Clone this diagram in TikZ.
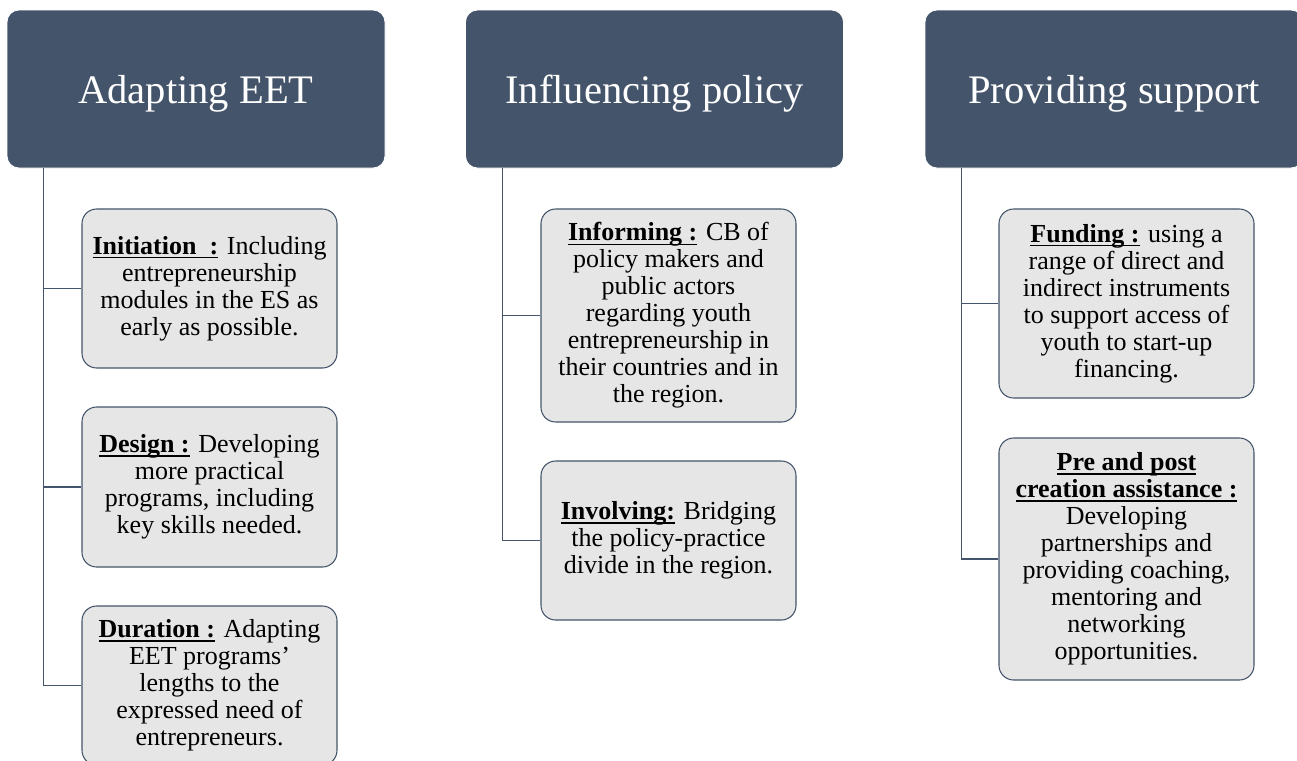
\documentclass[tikz,border=0pt]{standalone}
\usepackage{fontspec}
\setmainfont{Liberation Serif}

\definecolor{slate}{HTML}{44546A}
\definecolor{paper}{HTML}{E7E6E6}

\tikzset{
  head/.style={fill=slate,draw=white,line width=.6pt,rounded corners=9pt,
    minimum width=283.5pt,minimum height=118.5pt,text=white,text depth=0pt,
    font=\fontsize{30.4}{36}\selectfont},
  item/.style={fill=paper,draw=slate,line width=.8pt,rounded corners=11pt,
    minimum width=191.25pt,align=center,inner sep=2pt,
    font=\fontsize{19.5}{20.25}\selectfont},
  branch/.style={draw=slate,line width=.9pt}
}
% bold lead-in with a rule at a fixed depth
\newlength{\leadwd}
\newcommand{\lead}[1]{\settowidth{\leadwd}{\textbf{#1}}%
  \rlap{\rule[-3pt]{\leadwd}{1pt}}\textbf{#1}}

\begin{document}
\begin{tikzpicture}[x=.75pt,y=-.75pt]
  \useasboundingbox (0,0) rectangle (1297,761);
  \clip (0,0) rectangle (1297,761);

  % column headers
  \node[head] (eet) at (196,89) {Adapting EET};
  \node[head] (pol) at (654.5,89) {Influencing policy};
  \node[head] (sup) at (1114,89) {Providing support};

  % first column
  \node[item,minimum height=119.25pt] (init) at (209.5,288.5)
    {\lead{Initiation\ \ :} Including\\entrepreneurship\\modules in the ES as\\early as possible.};
  \node[item,minimum height=120pt] (design) at (209.5,487)
    {\lead{Design :} Developing\\more practical\\programs, including\\key skills needed.};
  \node[item,minimum height=119.25pt] (dur) at (209.5,685.5)
    {\lead{Duration :} Adapting\\EET programs’\\lengths to the\\expressed need of\\entrepreneurs.};

  % second column
  \node[item,minimum height=159.75pt] (inform) at (668.5,315.5)
    {\lead{Informing :} CB of\\policy makers and\\public actors\\regarding youth\\entrepreneurship in\\their countries and in\\the region.};
  \node[item,minimum height=119.25pt] (involve) at (668.5,540.5)
    {\lead{Involving:} Bridging\\the policy-practice\\divide in the region.};

  % third column
  \node[item,minimum height=141.75pt] (fund) at (1126.5,303.5)
    {\lead{Funding :} using a\\range of direct and\\indirect instruments\\to support access of\\youth to start-up\\financing.};
  \node[item,minimum height=181.5pt] (assist) at (1126.5,559)
    {\lead{Pre and post}\\\lead{creation assistance :}\\Developing\\partnerships and\\providing coaching,\\mentoring and\\networking\\opportunities.};

  % tree lines
  \draw[branch] ([xshift=27.75pt]eet.south west) |- (init.west);
  \draw[branch] ([xshift=27.75pt]eet.south west) |- (design.west);
  \draw[branch] ([xshift=27.75pt]eet.south west) |- (dur.west);
  \draw[branch] ([xshift=27.75pt]pol.south west) |- (inform.west);
  \draw[branch] ([xshift=27.75pt]pol.south west) |- (involve.west);
  \draw[branch] ([xshift=27.75pt]sup.south west) |- (fund.west);
  \draw[branch] ([xshift=27.75pt]sup.south west) |- (assist.west);
\end{tikzpicture}
\end{document}
